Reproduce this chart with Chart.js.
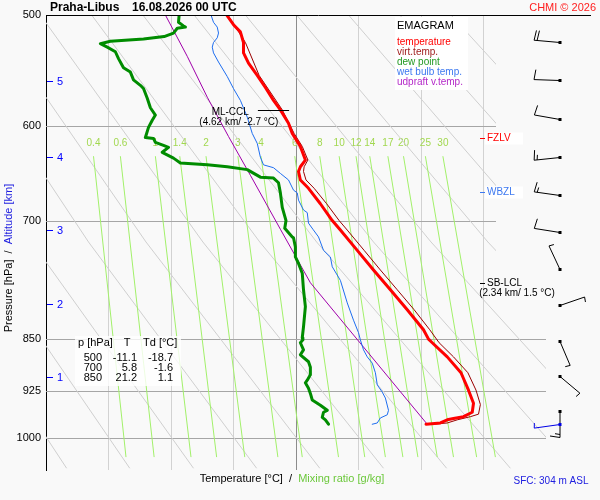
<!DOCTYPE html>
<html>
  <head>
    <meta charset="utf-8" />
    <title>Praha-Libus emagram</title>
    <style>
        html, body {
            margin: 0;
            padding: 0;
            background: #f9f9f9;
            overflow: hidden;
        }
        #wrap { width: 600px; height: 500px; }
    </style>
  </head>
  <body>
    <script src="https://cdn.jsdelivr.net/npm/chart.js@4/dist/chart.umd.min.js"></script>
    <div id="wrap"><canvas id="chart" width="600" height="500"></canvas></div>

    <script>
        // sounding profiles, pressure [hPa] / temperature [°C]
        const tempP = [500, 508, 514, 523, 532, 541, 552, 563, 575, 584, 597, 607, 620, 634, 641, 646, 655, 664, 681, 700, 711, 735, 759, 784, 810, 837, 850, 855, 875, 898, 924, 944, 958, 965, 968, 970, 975, 977];
        const tempT = [-11.1, -10.0, -8.9, -8.4, -8.4, -7.6, -6.2, -4.9, -3.6, -2.5, -1.2, -0.6, 0.7, 1.5, 0.7, 0.4, 0.7, 2.0, 3.9, 5.8, 7.1, 9.8, 12.4, 15.1, 17.8, 20.4, 21.2, 21.8, 24.2, 26.4, 27.6, 28.4, 28.2, 26.8, 25.2, 24.2, 23.1, 20.8];

        const virtP = [500, 523, 552, 584, 607, 620, 634, 641, 646, 655, 664, 681, 700, 711, 735, 759, 784, 810, 837, 855, 875, 898, 924, 946, 961, 965, 970, 975, 977];
        const virtT = [-10.9, -8.1, -5.9, -2.2, -0.3, 1.0, 1.9, 1.3, 1.2, 1.6, 2.9, 4.9, 6.9, 8.2, 10.9, 13.5, 16.2, 18.9, 21.4, 22.9, 25.2, 27.5, 28.8, 29.5, 29.2, 27.9, 25.8, 24.2, 21.8];

        const dewP = [500, 506, 509, 510, 511, 515, 518, 520, 522, 523, 524, 527, 531, 537, 543, 545, 549, 556, 561, 564, 573, 582, 589, 594, 601, 611, 612, 616, 619, 621, 626, 632, 637, 639, 641, 644, 652, 653, 658, 669, 685, 700, 709, 719, 720, 731, 743, 751, 763, 784, 806, 833, 848, 851, 855, 865, 872, 882, 890, 901, 909, 913, 921, 929, 939, 944, 947, 955, 958, 966, 970, 977];
        const dewT = [-18.7, -18.8, -18.0, -17.7, -19.0, -19.6, -21.1, -24.4, -29.7, -30.5, -31.3, -30.2, -28.9, -28.4, -27.8, -27.6, -26.5, -26.0, -24.9, -24.4, -23.8, -23.3, -22.5, -23.0, -23.6, -24.1, -22.8, -22.5, -21.2, -20.4, -21.4, -19.6, -18.5, -14.2, -11.0, -7.8, -5.7, -3.6, -2.8, -2.5, -2.2, -1.6, -1.8, -0.6, -0.4, -0.1, -0.1, 0.4, 1.0, 1.2, 1.5, 1.2, 1.0, 1.1, 0.7, 1.2, 0.7, 2.0, 2.3, 2.3, 1.8, 1.5, 2.0, 2.3, 2.6, 3.4, 3.9, 5.0, 4.4, 4.2, 4.7, 5.2];

        const wetP = [500, 506, 510, 515, 519, 523, 527, 532, 540, 553, 564, 575, 591, 607, 617, 631, 639, 642, 648, 655, 666, 669, 677, 688, 691, 703, 710, 719, 735, 743, 755, 772, 801, 824, 841, 851, 865, 875, 884, 898, 916, 927, 936, 955, 962, 967, 975, 977];
        const wetT = [-13.6, -13.2, -12.6, -12.4, -12.6, -13.2, -13.4, -13.2, -12.4, -11.0, -10.0, -8.9, -7.8, -7.0, -6.2, -5.7, -5.2, -3.6, -2.5, -1.2, -0.4, 0.2, 0.4, 1.2, 1.8, 2.0, 2.7, 3.6, 4.4, 5.5, 5.8, 7.1, 8.2, 9.2, 10.0, 10.3, 10.8, 11.4, 12.2, 12.7, 13.0, 13.8, 14.3, 14.8, 14.6, 13.5, 13.0, 12.2];

        const parcelP = [500, 535, 572, 610, 650, 710, 775, 977];
        const parcelT = [-20.9, -17.4, -14.2, -10.8, -7.3, -2.5, 2.3, 21.0];

        // axes
        const xTicks = [-30, -20, -10, 0, 10, 20, 30];
        const yTicks = [500, 600, 700, 850, 925, 1000];
        const altKm = [1, 2, 3, 4, 5];
        const altP = [904, 802, 711, 631, 557];

        // mixing ratio lines [g/kg], temperature at top and bottom end
        const mixLabels = ['0.4', '0.6', '1', '1.4', '2', '3', '4', '6', '8', '10', '12', '14', '17', '20', '25', '30'];
        const mixTopT = [-32.4, -28.1, -22.5, -18.6, -14.4, -9.3, -5.6, -0.2, 3.8, 6.9, 9.6, 11.8, 14.7, 17.2, 20.7, 23.5];
        const mixBottomT = [-27.2, -22.7, -16.8, -12.7, -8.2, -2.9, 1.0, 6.8, 11.0, 14.3, 17.1, 19.5, 22.6, 25.2, 28.9, 31.9];
        const mixEndP = [630, 1031];
        const mixLabelP = 617;

        // dry adiabats, temperature at 500 / 725 / 1050 hPa
        const dryP = [500, 725, 1050];
        const dryT500 = [-81.9, -73.7, -65.5, -57.3, -49.1, -40.9, -32.7, -24.5, -16.3, -8.1, 0.1, 8.4, 16.6, 24.8, 33.0];
        const dryT725 = [-60.5, -51.4, -42.3, -33.2, -24.0, -14.9, -5.8, 3.3, 12.4, 21.6, 30.7, 39.8, 48.9, 58.0, 67.2];
        const dryT1050 = [-36.7, -26.6, -16.4, -6.3, 3.8, 14.0, 24.1, 34.3, 44.4, 54.5, 64.7, 74.8, 85.0, 95.1, 105.3];

        // wind barbs
        const windP = [523, 556, 593, 631, 671, 713, 758, 804, 852, 903, 956, 977];
        const windDir = [275, 272, 280, 264, 278, 279, 335, 71, 157, 130, 180, 262];
        const windSpd = [20, 10, 10, 15, 15, 10, 3, 3, 3, 3, 15, 3];

        // levels
        const levelNames = ['FZLV', 'WBZL', 'SB-LCL'];
        const levelP = [612, 668, 775];
        const levelColors = ['#ff0000', '#3c78f0', '#000000'];
        const cclP = 584;
        const cclT = [-6.1, -1.1];

        const tableP = [500, 700, 850];
        const tableT = [-11.1, 5.8, 21.2];
        const tableTd = [-18.7, -1.6, 1.1];

        const legendNames = ['temperature', 'virt.temp.', 'dew point', 'wet bulb temp.', 'udpraft v.temp.'];
        const legendColors = ['#ff0000', '#a01e1e', '#229922', '#3c78f0', '#b428c8'];

        const FONT = '"Liberation Sans", Arial, Helvetica, sans-serif';
        const font = (size, bold) => (bold ? 'bold ' : '') + size + 'px ' + FONT;
        const stepP = 810;   // grid is narrower above this level
        const stepT = 32;

        const pts = (ps, ts) => ps.map((p, i) => ({ x: ts[i], y: p }));
        const line = (data, color, width, order, extra) => Object.assign({
            data: data, borderColor: color, borderWidth: width, order: order,
            pointRadius: 0, fill: false, tension: 0,
            borderJoinStyle: 'round', borderCapStyle: 'round'
        }, extra || {});

        const datasets = [
            line(pts(tempP, tempT), '#ff0000', 3, 1),
            line(pts(virtP, virtT), '#9b0000', 1, 2),
            line(pts(dewP, dewT), '#008c00', 3, 3),
            line(pts(wetP, wetT), '#1e6ef0', 1, 4),
            line(pts(parcelP, parcelT), '#a000aa', 1, 5)
        ];
        mixLabels.forEach((w, i) => {
            datasets.push(line([{ x: mixTopT[i], y: mixEndP[0] }, { x: mixBottomT[i], y: mixEndP[1] }],
                '#a2f06a', 1, 20, { iso: true, borderCapStyle: 'butt' }));
        });
        dryT500.forEach((t, i) => {
            datasets.push(line(pts(dryP, [t, dryT725[i], dryT1050[i]]),
                '#cfcfcf', 1, 21, { iso: true, borderCapStyle: 'butt' }));
        });

        function clipRegion(chart) {
            const { ctx, chartArea: a, scales: { x, y } } = chart;
            const xs = x.getPixelForValue(stepT);
            const ys = y.getPixelForValue(stepP);
            ctx.beginPath();
            ctx.moveTo(a.left, a.top);
            ctx.lineTo(xs, a.top);
            ctx.lineTo(xs, ys);
            ctx.lineTo(a.right, ys);
            ctx.lineTo(a.right, a.bottom);
            ctx.lineTo(a.left, a.bottom);
            ctx.closePath();
            ctx.clip();
        }

        function text(ctx, str, x, y, f, color, align) {
            ctx.font = f;
            ctx.fillStyle = color || '#000';
            ctx.textAlign = align || 'left';
            ctx.textBaseline = 'middle';
            ctx.fillText(str, x, y);
        }

        function drawBarb(ctx, x0, y0, dir, spd, color) {
            const r = dir * Math.PI / 180;
            const sx = Math.sin(r), sy = -Math.cos(r);
            const tx = -sy, ty = sx;
            const L = 26;
            ctx.strokeStyle = color;
            ctx.lineWidth = 1;
            ctx.beginPath();
            ctx.moveTo(x0, y0);
            ctx.lineTo(x0 + L * sx, y0 + L * sy);
            let rest = Math.round(spd / 5) * 5;
            let pos = L;
            while (rest >= 10) {
                const bx = x0 + pos * sx, by = y0 + pos * sy;
                ctx.moveTo(bx, by);
                ctx.lineTo(bx + 10 * tx - 1.5 * sx, by + 10 * ty - 1.5 * sy);
                pos -= 3;
                rest -= 10;
            }
            if (rest >= 5) {
                const bx = x0 + pos * sx, by = y0 + pos * sy;
                ctx.moveTo(bx, by);
                ctx.lineTo(bx + 5 * tx - 0.8 * sx, by + 5 * ty - 0.8 * sy);
            }
            ctx.stroke();
            ctx.fillStyle = color;
            ctx.fillRect(x0 - 1.5, y0 - 1.5, 3, 3);
        }

        const emagramPlugin = {
            id: 'emagram',
            beforeDraw(chart) {
                const ctx = chart.ctx;
                ctx.save();
                ctx.fillStyle = '#f9f9f9';
                ctx.fillRect(0, 0, chart.width, chart.height);
                ctx.restore();
            },
            beforeDatasetsDraw(chart) {
                const { ctx, chartArea: a, scales: { x, y } } = chart;
                ctx.save();
                // pressure lines
                ctx.strokeStyle = '#a6a6a6';
                ctx.lineWidth = 1;
                yTicks.slice(1).forEach(p => {
                    const yy = Math.round(y.getPixelForValue(p)) + 0.5;
                    const xr = p < stepP ? x.getPixelForValue(stepT) : a.right;
                    ctx.beginPath();
                    ctx.moveTo(a.left, yy);
                    ctx.lineTo(xr, yy);
                    ctx.stroke();
                });
                // mixing ratio labels
                mixLabels.forEach((w, i) => {
                    text(ctx, w, x.getPixelForValue(mixTopT[i]), y.getPixelForValue(mixLabelP), font(10), '#a2d850', 'center');
                });
                ctx.restore();
            },
            beforeDatasetDraw(chart, args) {
                if (chart.data.datasets[args.index].iso) {
                    chart.ctx.save();
                    clipRegion(chart);
                }
            },
            afterDatasetDraw(chart, args) {
                if (chart.data.datasets[args.index].iso) {
                    chart.ctx.restore();
                }
            },
            afterDatasetsDraw(chart) {
                const { ctx, chartArea: a, scales: { x, y } } = chart;
                ctx.save();

                // top frame line
                ctx.strokeStyle = '#000';
                ctx.lineWidth = 1;
                ctx.beginPath();
                ctx.moveTo(a.left, Math.round(a.top) + 0.5);
                ctx.lineTo(a.right + 45, Math.round(a.top) + 0.5);
                ctx.stroke();

                // altitude scale
                ctx.strokeStyle = '#0000ff';
                altKm.forEach((km, i) => {
                    const yy = Math.round(y.getPixelForValue(altP[i])) + 0.5;
                    ctx.beginPath();
                    ctx.moveTo(a.left + 1, yy);
                    ctx.lineTo(a.left + 7, yy);
                    ctx.stroke();
                    text(ctx, String(km), a.left + 11, yy, font(11), '#0000ff');
                });

                // legend
                ctx.fillStyle = '#ffffff';
                ctx.fillRect(395, 17, 73, 73);
                text(ctx, 'EMAGRAM', 397, 26, font(11), '#000');
                legendNames.forEach((n, i) => text(ctx, n, 397, 42.5 + i * 10, font(10), legendColors[i]));

                // table
                ctx.fillStyle = 'rgba(255,255,255,0.8)';
                ctx.fillRect(75, 336, 106, 50);
                text(ctx, 'p [hPa]', 78, 343, font(11));
                text(ctx, 'T', 127, 343, font(11), '#000', 'center');
                text(ctx, 'Td [°C]', 143, 343, font(11));
                tableP.forEach((p, i) => {
                    const yy = 358 + i * 10;
                    text(ctx, String(p), 102, yy, font(11), '#000', 'right');
                    text(ctx, tableT[i].toFixed(1), 137, yy, font(11), '#000', 'right');
                    text(ctx, tableTd[i].toFixed(1), 173, yy, font(11), '#000', 'right');
                });

                // ML-CCL
                const cy = Math.round(y.getPixelForValue(cclP)) + 0.5;
                const cx0 = x.getPixelForValue(cclT[0]);
                ctx.strokeStyle = '#000';
                ctx.beginPath();
                ctx.moveTo(cx0, cy);
                ctx.lineTo(x.getPixelForValue(cclT[1]), cy);
                ctx.stroke();
                text(ctx, 'ML-CCL', cx0 - 9, cy + 1.5, font(10), '#000', 'right');
                text(ctx, '(4.62 km/ -2.7 °C)', cx0 - 19, cy + 12, font(10), '#000', 'center');

                // levels on the right
                const lx = x.getPixelForValue(stepT);
                levelNames.forEach((n, i) => {
                    const yy = Math.round(y.getPixelForValue(levelP[i])) + 0.5;
                    if (i < 2) {
                        ctx.fillStyle = '#ffffff';
                        ctx.fillRect(lx - 11, yy - 6, 38, 12);
                    }
                    ctx.strokeStyle = levelColors[i];
                    ctx.beginPath();
                    ctx.moveTo(lx - 16, yy);
                    ctx.lineTo(lx - 11, yy);
                    ctx.stroke();
                    text(ctx, n, lx - 9, yy, font(10), levelColors[i]);
                });
                text(ctx, '(2.34 km/ 1.5 °C)', lx + 21, y.getPixelForValue(levelP[2]) + 10.5, font(10), '#000', 'center');

                // wind barbs
                const bx = a.right + 14;
                windP.forEach((p, i) => {
                    const surface = i === windP.length - 1;
                    drawBarb(ctx, bx, Math.round(y.getPixelForValue(p)) + 0.5, windDir[i], windSpd[i], surface ? '#0000e6' : '#000');
                });
                ctx.restore();
            },
            afterDraw(chart) {
                const ctx = chart.ctx;
                ctx.save();
                text(ctx, 'Praha-Libus', 50, 8, font(12, true));
                text(ctx, '16.08.2026 00 UTC', 132, 8, font(12, true));
                text(ctx, 'CHMI © 2026', 596, 8, font(11), '#ff2020', 'right');
                text(ctx, 'SFC: 304 m ASL', 551, 481, font(10), '#2020e0', 'center');

                // x title
                ctx.font = font(11);
                const t1 = 'Temperature [°C]  /  ', t2 = 'Mixing ratio [g/kg]';
                const w1 = ctx.measureText(t1).width, w2 = ctx.measureText(t2).width;
                const x0 = 292 - (w1 + w2) / 2;
                text(ctx, t1, x0, 479, font(11), '#000');
                text(ctx, t2, x0 + w1, 479, font(11), '#6cc83c');

                // y title
                const s1 = 'Pressure [hPa]  /  ', s2 = 'Altitude [km]';
                ctx.font = font(11);
                const v1 = ctx.measureText(s1).width, v2 = ctx.measureText(s2).width;
                ctx.translate(9, 258);
                ctx.rotate(-Math.PI / 2);
                text(ctx, s1, -(v1 + v2) / 2, 0, font(11), '#000');
                text(ctx, s2, -(v1 + v2) / 2 + v1, 0, font(11), '#2020e0');
                ctx.restore();
            }
        };

        const chart = new Chart('chart', {
            type: 'line',
            data: { datasets: datasets },
            options: {
                responsive: false,
                animation: false,
                events: [],
                layout: { padding: { top: 15, right: 54, left: 0, bottom: 0 } },
                plugins: { legend: { display: false }, tooltip: { enabled: false } },
                scales: {
                    x: {
                        type: 'linear',
                        min: -40,
                        max: 40,
                        afterBuildTicks: s => { s.ticks = xTicks.map(v => ({ value: v })); },
                        afterFit: s => { s.height = 30; },
                        grid: {
                            drawTicks: false,
                            color: c => (c.tick && c.tick.value === 0) ? '#8c8c8c' : '#d2d2d2'
                        },
                        border: { display: false },
                        ticks: {
                            padding: -15,
                            color: '#000',
                            font: { family: FONT, size: 11 },
                            callback: v => String(v)
                        }
                    },
                    y: {
                        type: 'logarithmic',
                        reverse: true,
                        min: 500,
                        max: 1053,
                        afterBuildTicks: s => { s.ticks = yTicks.map(v => ({ value: v })); },
                        afterFit: s => { s.width = 46; },
                        grid: { display: false, drawTicks: false },
                        border: { display: true, color: '#000', width: 1 },
                        ticks: {
                            padding: 5,
                            autoSkip: false,
                            color: '#000',
                            font: { family: FONT, size: 11 },
                            callback: v => String(v)
                        }
                    }
                }
            },
            plugins: [emagramPlugin]
        });
    </script>
  </body>
</html>
